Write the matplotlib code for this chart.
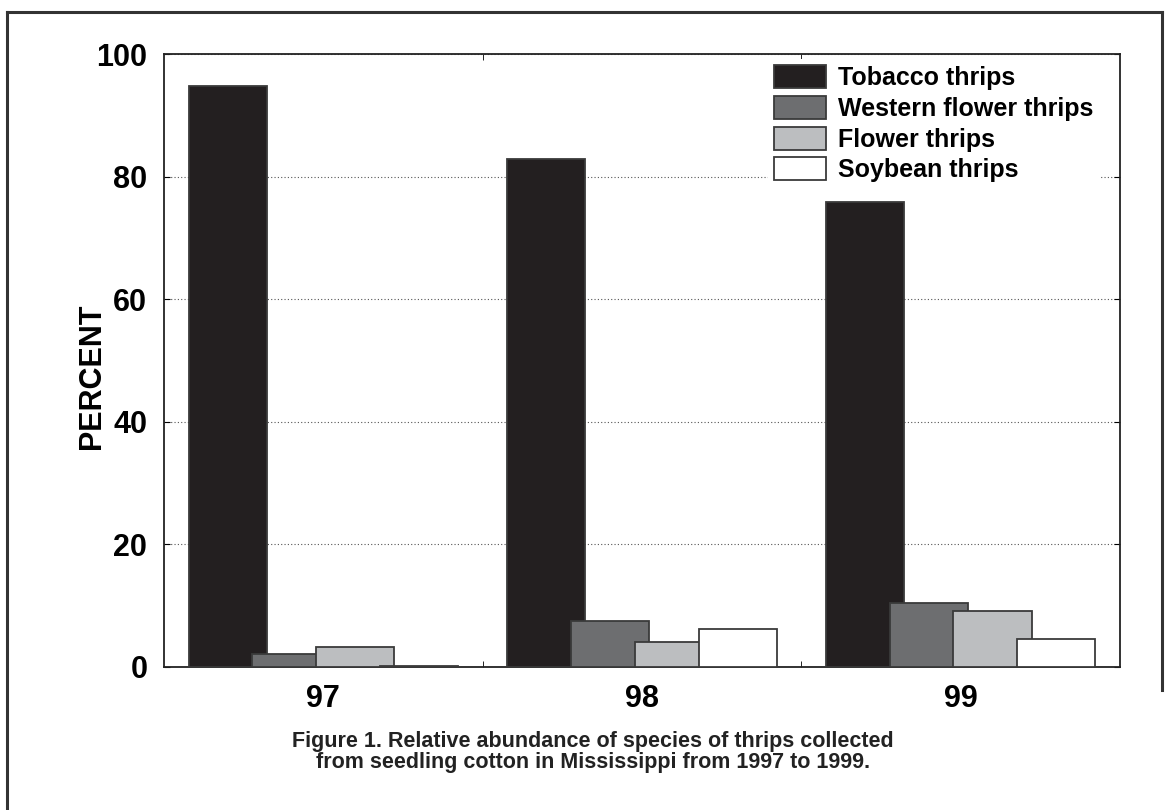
# thrips species abundance in seedling cotton, Mississippi 1997-1999
# grouped bar chart, bars in a group overlap a little like the original figure

import numpy as np
import matplotlib.pyplot as plt
from matplotlib.lines import Line2D

plt.rcParams['font.family'] = ['Liberation Sans', 'DejaVu Sans']
plt.rcParams['font.weight'] = 'bold'

# -------------------------------------------------------------------
# data
# -------------------------------------------------------------------
years = ['97', '98', '99']
species = ['Tobacco thrips', 'Western flower thrips', 'Flower thrips', 'Soybean thrips']
tobacco = [94.7, 82.9, 75.8]
western = [2.2, 7.5, 10.5]
flower = [3.2, 4.0, 9.1]
soybean = [0.15, 6.2, 4.6]
yticks = [0, 20, 40, 60, 80, 100]

series = [tobacco, western, flower, soybean]
fills = ['#231f20', '#6d6e70', '#bcbec0', '#ffffff']

fig = plt.figure(figsize=(11.69, 8.10), dpi=100)
ax = fig.add_axes([164/1169, 1 - 667/810, (1120 - 164)/1169, (667 - 54)/810])

x = np.arange(len(years))
step = 0.2     # spacing between bars in a group
width = 0.245  # wider than step so the bars overlap

for i, (vals, fc) in enumerate(zip(series, fills)):
    ax.bar(x + (i - 1.5) * step, vals, width=width, color=fc,
           edgecolor='#3a3a3a', linewidth=1.3, label=species[i], zorder=3 + i)

ax.set_xlim(-0.5, 2.5)
ax.set_ylim(0, 100)
ax.set_yticks(yticks)
ax.set_xticks(x)
ax.set_xticklabels(years)
ax.set_xticks([0.5, 1.5], minor=True)
ax.tick_params(axis='both', which='major', labelsize=22, direction='in', length=0, pad=12)
ax.tick_params(axis='y', which='major', length=4, right=True)
ax.tick_params(axis='x', which='minor', length=4, direction='in', top=True)
ax.grid(axis='y', linestyle=(0, (1, 2)), color='#555555', linewidth=0.8, zorder=0)
for s in ax.spines.values():
    s.set_linewidth(1.3)
    s.set_color('#222222')

# y label placed by hand so it sits where the original has it
fig.text(92/1169, 1 - 376/810, 'PERCENT', rotation=90, ha='center', va='center',
         fontsize=22, fontweight='bold')

leg = ax.legend(loc='upper left', bbox_to_anchor=(768/1169, 1 - 59/810),
                bbox_transform=fig.transFigure, fontsize=18, frameon=True,
                edgecolor='none', facecolor='white', framealpha=1, fancybox=False,
                handlelength=2.08, handleheight=1.05, handletextpad=0.48,
                labelspacing=0.22, borderpad=0.25, borderaxespad=0)
leg.set_zorder(2.5)  # over the grid but under the bars
for t in leg.get_texts():
    t.set_fontweight('bold')

# caption
fig.text(593/1169, 1 - 752/810,
         'Figure 1. Relative abundance of species of thrips collected\n'
         'from seedling cotton in Mississippi from 1997 to 1999.',
         ha='center', va='center', fontsize=15.5, fontweight='bold',
         color='#222222', linespacing=1.05)

# outer frame (no line along the bottom right in the scan)
frame_kw = dict(color='#333333', linewidth=2.2, transform=fig.transFigure)
fig.add_artist(Line2D([7/1169, 7/1169], [0, 1 - 12/810], **frame_kw))
fig.add_artist(Line2D([7/1169, 1162/1169], [1 - 12/810, 1 - 12/810], **frame_kw))
fig.add_artist(Line2D([1162/1169, 1162/1169], [1 - 12/810, 1 - 690/810], **frame_kw))

plt.savefig('out.png', dpi=100)
print('saved out.png')
